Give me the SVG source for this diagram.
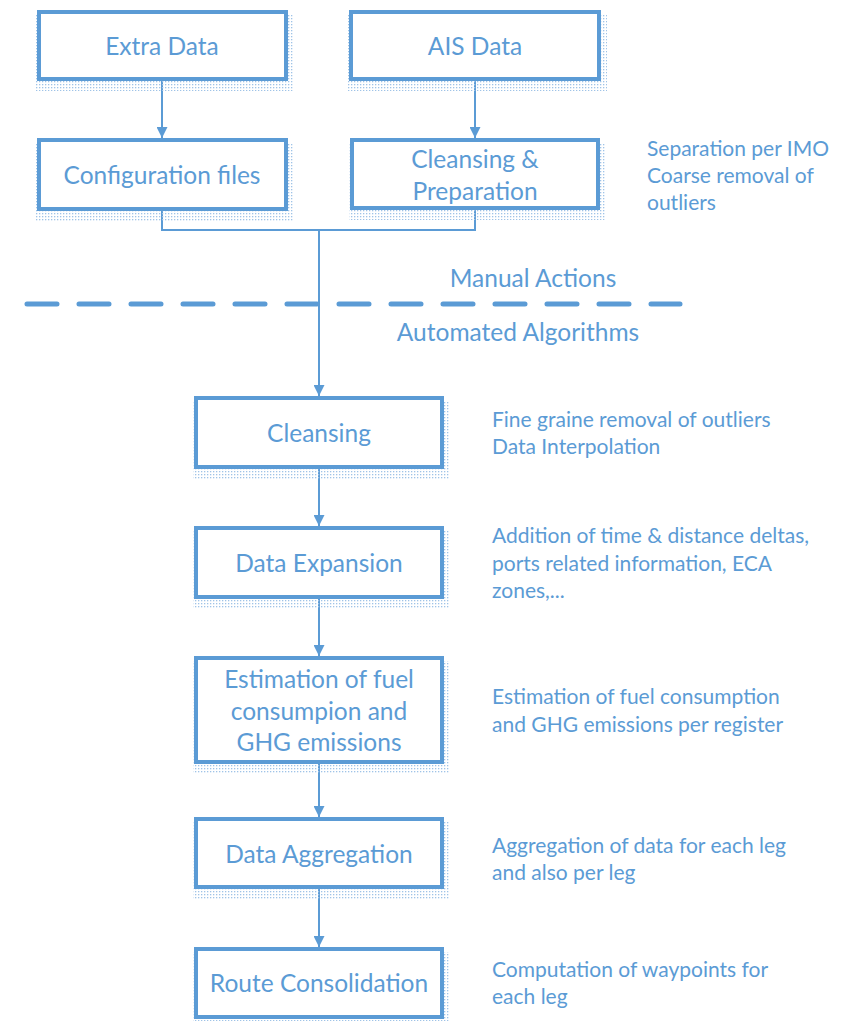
<svg xmlns="http://www.w3.org/2000/svg" width="847" height="1021" viewBox="0 0 847 1021">
  <style>
    .box { fill: #ffffff; stroke: #5B9BD5; stroke-width: 4; }
    .shadow { fill: url(#dots); }
    .label { font-family: Lato, "Liberation Sans", sans-serif; font-size: 24.5px; fill: #5B9BD5; text-anchor: middle; }
    .note { font-family: Lato, "Liberation Sans", sans-serif; font-size: 21px; fill: #5B9BD5; }
    .conn { fill: none; stroke: #5B9BD5; stroke-width: 2; }
    .divider { fill: none; stroke: #5B9BD5; stroke-width: 5; stroke-linecap: round; stroke-dasharray: 30 22; }
  </style>
  <defs>
    <pattern id="dots" width="3" height="3" patternUnits="userSpaceOnUse">
      <rect x="0" y="0" width="1.3" height="1.3" fill="#9fc3e7"/>
    </pattern>
    <marker id="arrow" viewBox="0 0 10 10" refX="10" refY="5" markerWidth="11" markerHeight="11" markerUnits="userSpaceOnUse" orient="auto">
      <path d="M0,0 L10,5 L0,10 Z" fill="#5B9BD5"/>
    </marker>
  </defs>

  <rect width="847" height="1021" fill="#ffffff"/>

  <!-- connectors -->
  <g id="connectors">
    <line class="conn" x1="162" y1="81" x2="162" y2="138" marker-end="url(#arrow)"/>
    <line class="conn" x1="475" y1="81" x2="475" y2="138" marker-end="url(#arrow)"/>
    <polyline class="conn" points="162,211 162,230 475,230 475,210"/>
    <line class="conn" x1="319" y1="230" x2="319" y2="396" marker-end="url(#arrow)"/>
    <line class="conn" x1="319" y1="469" x2="319" y2="526" marker-end="url(#arrow)"/>
    <line class="conn" x1="319" y1="599" x2="319" y2="656" marker-end="url(#arrow)"/>
    <line class="conn" x1="319" y1="764" x2="319" y2="817" marker-end="url(#arrow)"/>
    <line class="conn" x1="319" y1="889" x2="319" y2="947" marker-end="url(#arrow)"/>
  </g>

  <!-- manual / automated divider -->
  <g id="divider">
    <line class="divider" x1="27" y1="304" x2="680" y2="304"/>
    <text class="label" x="533" y="287">Manual Actions</text>
    <text class="label" x="518" y="341">Automated Algorithms</text>
  </g>

  <g id="extra-data">
    <rect class="shadow" x="36" y="15" width="258" height="76"/>
    <rect class="box" x="39" y="12" width="247" height="67"/>
    <text class="label" x="162" y="55">Extra Data</text>
  </g>

  <g id="ais-data">
    <rect class="shadow" x="348" y="15" width="259" height="76"/>
    <rect class="box" x="351" y="12" width="248" height="67"/>
    <text class="label" x="475" y="55">AIS Data</text>
  </g>

  <g id="configuration-files">
    <rect class="shadow" x="36" y="143" width="258" height="78"/>
    <rect class="box" x="39" y="140" width="247" height="69"/>
    <text class="label" x="162" y="184">Configuration files</text>
  </g>

  <g id="cleansing-preparation">
    <rect class="shadow" x="349" y="143" width="257" height="77"/>
    <rect class="box" x="352" y="140" width="246" height="68"/>
    <text class="label" x="475" y="168">Cleansing &amp;</text>
    <text class="label" x="475" y="200">Preparation</text>
  </g>
  <g id="note-preparation">
    <text class="note" x="647" y="156">Separation per IMO</text>
    <text class="note" x="647" y="183">Coarse removal of</text>
    <text class="note" x="647" y="210">outliers</text>
  </g>

  <g id="cleansing">
    <rect class="shadow" x="193" y="401" width="257" height="78"/>
    <rect class="box" x="196" y="398" width="246" height="69"/>
    <text class="label" x="319" y="442">Cleansing</text>
  </g>
  <g id="note-cleansing">
    <text class="note" x="492" y="427">Fine graine removal of outliers</text>
    <text class="note" x="492" y="454">Data Interpolation</text>
  </g>

  <g id="data-expansion">
    <rect class="shadow" x="193" y="531" width="257" height="78"/>
    <rect class="box" x="196" y="528" width="246" height="69"/>
    <text class="label" x="319" y="572">Data Expansion</text>
  </g>
  <g id="note-expansion">
    <text class="note" x="492" y="543">Addition of time &amp; distance deltas,</text>
    <text class="note" x="492" y="571">ports related information, ECA</text>
    <text class="note" x="492" y="598">zones,...</text>
  </g>

  <g id="estimation">
    <rect class="shadow" x="193" y="661" width="257" height="113"/>
    <rect class="box" x="196" y="658" width="246" height="104"/>
    <text class="label" x="319" y="688">Estimation of fuel</text>
    <text class="label" x="319" y="720">consumpion and</text>
    <text class="label" x="319" y="751">GHG emissions</text>
  </g>
  <g id="note-estimation">
    <text class="note" x="492" y="704">Estimation of fuel consumption</text>
    <text class="note" x="492" y="732">and GHG emissions per register</text>
  </g>

  <g id="data-aggregation">
    <rect class="shadow" x="193" y="822" width="257" height="77"/>
    <rect class="box" x="196" y="819" width="246" height="68"/>
    <text class="label" x="319" y="863">Data Aggregation</text>
  </g>
  <g id="note-aggregation">
    <text class="note" x="492" y="853">Aggregation of data for each leg</text>
    <text class="note" x="492" y="880">and also per leg</text>
  </g>

  <g id="route-consolidation">
    <rect class="shadow" x="193" y="952" width="257" height="77"/>
    <rect class="box" x="196" y="949" width="246" height="68"/>
    <text class="label" x="319" y="992">Route Consolidation</text>
  </g>
  <g id="note-route">
    <text class="note" x="492" y="977">Computation of waypoints for</text>
    <text class="note" x="492" y="1004">each leg</text>
  </g>
</svg>
